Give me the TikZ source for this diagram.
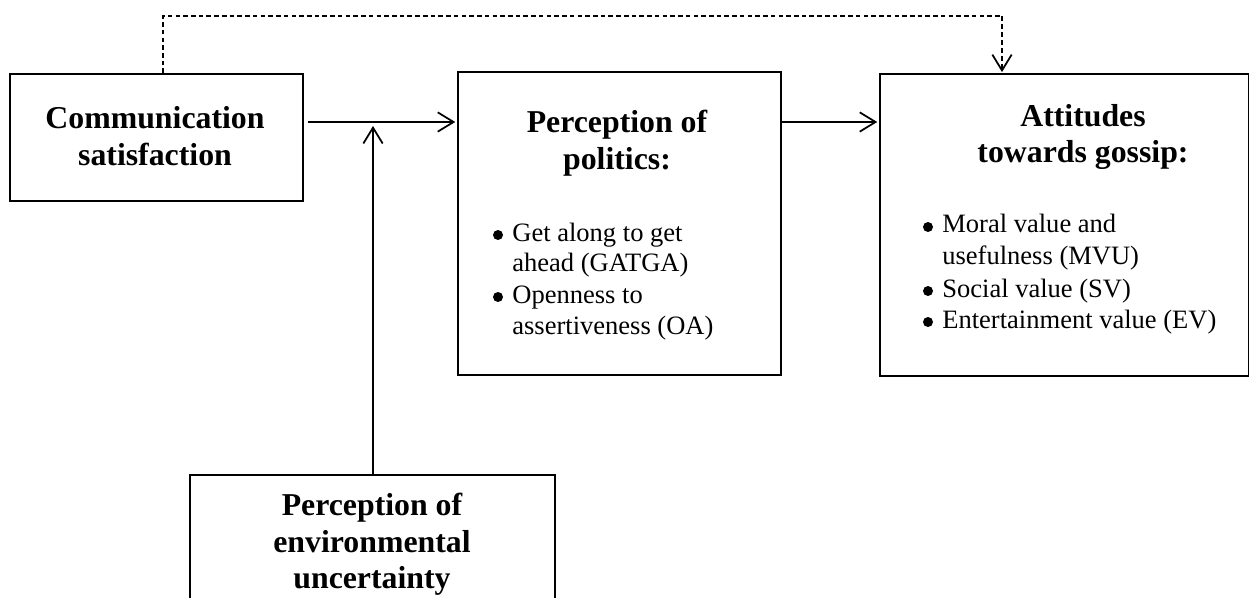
\documentclass[tikz,border=0pt]{standalone}
\usepackage{fontspec}
\setmainfont{Liberation Serif}
\usetikzlibrary{arrows.meta}
\tikzset{
  box/.style={draw, line width=1.3pt, inner sep=0pt, anchor=north west},
  ttl/.style={font=\fontsize{18.1}{21}\selectfont\bfseries, anchor=base, inner sep=0pt},
  itm/.style={font=\fontsize{15.1}{17.6}\selectfont, anchor=base west, inner sep=0pt},
  bul/.style={circle, fill, inner sep=0pt, minimum size=0.2cm},
  arr/.style={line width=1pt, -{Straight Barb[length=9pt,width=11pt,line width=1pt]}},
  dsh/.style={line width=0.6pt, dash pattern=on 2.6pt off 1.8pt},
}
\begin{document}
\begin{tikzpicture}[x=0.02cm, y=-0.02cm]
\useasboundingbox (0,0) rectangle (1249,598);
\clip (0,0) rectangle (1249,598);
% boxes
\node[box, minimum width=5.86cm, minimum height=2.54cm] (comm) at (9,73) {};
\node[box, minimum width=6.46cm, minimum height=6.06cm] (pol) at (457,71) {};
\node[box, minimum width=7.38cm, minimum height=6.04cm] (att) at (879,73) {};
\node[box, minimum width=7.3cm, minimum height=3.0cm] (bot) at (189,474) {};
% texts
\node[ttl] (c1) at (155,129) {Communication};
\node[ttl] (c2) at (155,166) {satisfaction};
\node[ttl] (p1) at (617,133) {Perception of};
\node[ttl] (p2) at (617,170) {politics:};
\node[bul] (pb1) at (498,235) {};
\node[itm] (pi1) at (512,241) {Get along to get};
\node[itm] (pi2) at (512,272) {ahead (GATGA)};
\node[bul] (pb2) at (498,297) {};
\node[itm] (pi3) at (512,303) {Openness to};
\node[itm] (pi4) at (512,335) {assertiveness (OA)};
\node[ttl] (a1) at (1083,127) {Attitudes};
\node[ttl] (a2) at (1083,163) {towards gossip:};
\node[bul] (ab1) at (928,227) {};
\node[itm] (ai1) at (942,233) {Moral value and};
\node[itm] (ai2) at (942,265) {usefulness (MVU)};
\node[bul] (ab2) at (928,291) {};
\node[itm] (ai3) at (942,297) {Social value (SV)};
\node[bul] (ab3) at (928,322) {};
\node[itm] (ai4) at (942,328) {Entertainment value (EV)};
\node[ttl] (b1) at (372,515) {Perception of};
\node[ttl] (b2) at (372,552) {environmental};
\node[ttl] (b3) at (372,588) {uncertainty};
% connectors
\coordinate (j) at (373,122);
\coordinate (vtip) at (373,126);
\coordinate (d1) at (163,16);
\coordinate (d2) at (1002,16);
\draw[arr] ([xshift=2pt]comm.east |- j) -- ([xshift=-1pt]pol.west |- j);
\draw[arr] (pol.east |- j) -- ([xshift=-1pt]att.west |- j);
\draw[arr] (bot.north -| vtip) -- (vtip);
\draw[dsh] (comm.north -| d1) -- (d1) -- (d2);
\draw[line width=1pt, dash pattern=on 2.8pt off 1.8pt, -{Straight Barb[length=9pt,width=11pt,line width=1pt]}] (d2) -- ([yshift=0.5pt]att.north -| d2);
\end{tikzpicture}
\end{document}
